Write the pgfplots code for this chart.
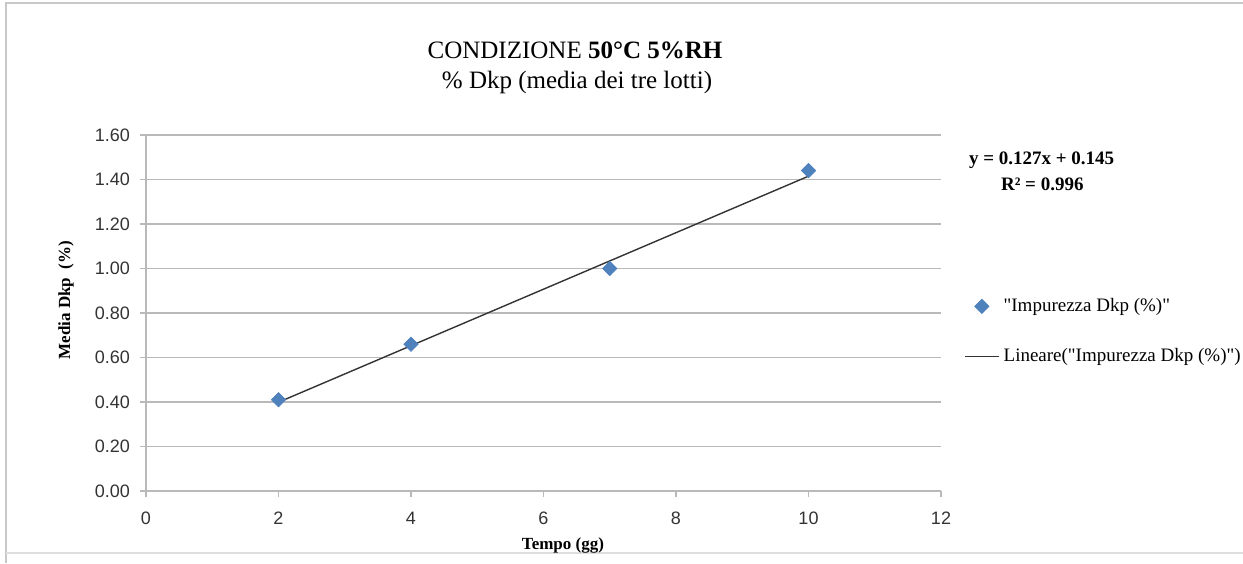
\documentclass[border=0pt]{standalone}
\usepackage{fontspec}
\setmainfont{Liberation Serif}
\newfontfamily\arial{Liberation Sans}
\usepackage{pgfplots}
\pgfplotsset{compat=1.18}
\definecolor{ptblue}{RGB}{79,129,189}
\definecolor{gridgray}{RGB}{185,185,185}
\definecolor{framegray}{RGB}{200,200,200}
\newcommand{\q}{\textquotedbl}

\begin{document}
\begin{tikzpicture}[x=0.5pt,y=-0.5pt]
  \useasboundingbox (0,0) rectangle (1243,563);
  % outer chart frame
  \draw[framegray,line width=0.8pt] (6,563) -- (6,3) -- (1243,3);
  \draw[framegray!60,line width=0.6pt] (6,553) -- (1243,553);

  \begin{axis}[
    at={(73pt,-245.5pt)}, anchor=south west,
    scale only axis, width=397.5pt, height=178pt,
    xmin=0, xmax=12, ymin=0, ymax=1.6,
    xtick={0,2,...,12}, ytick={0,0.2,...,1.6},
    axis lines*=left,
    axis line style={gridgray,line width=0.9pt,-},
    tick style={gridgray,line width=0.9pt},
    tick align=outside, major tick length=3pt,
    ymajorgrids, grid style={gridgray,line width=0.8pt},
    every tick label/.append style={font=\arial\fontsize{9}{10}\selectfont, text=black!80},
    /pgf/number format/assume math mode=true,
    x tick label style={yshift=-4pt},
    y tick label style={xshift=-1.5pt,/pgf/number format/.cd,fixed,fixed zerofill,precision=2},
    legend style={at={(1.021,0.565)}, anchor=north west, draw=none, fill=none,
      font=\fontsize{9.5}{11}\selectfont, row sep=13pt, cells={anchor=west},
      legend cell align=left},
  ]
    % mean Dkp values of the three lots
    \addplot[only marks, mark=square*, mark size=2.5pt, mark options={rotate=45}, color=ptblue]
      coordinates {(2,0.41) (4,0.66) (7,1.00) (10,1.44)};
    \addlegendentry{\q Impurezza Dkp (\%)\q}
    % linear trend y = 0.127x + 0.145
    \addplot[black!80, line width=0.7pt, no marks]
      coordinates {(2,0.399) (10,1.415)};
    \addlegendentry{Lineare(\q Impurezza Dkp (\%)\q)}
  \end{axis}

  % titles and labels
  \node[font=\fontsize{12.5}{15}\selectfont] at (575,50) {CONDIZIONE \textbf{50°C 5\%RH}};
  \node[font=\fontsize{12.5}{15}\selectfont] at (577,82) {\% Dkp (media dei tre lotti)};
  \node[font=\bfseries\fontsize{8.5}{10}\selectfont, rotate=90] at (66,300) {Media Dkp\ \ (\%)};
  \node[font=\bfseries\fontsize{8.5}{10}\selectfont] at (563,545) {Tempo (gg)};
  \node[font=\bfseries\fontsize{9.5}{11}\selectfont, anchor=west] at (962,160) {y = 0.127x + 0.145};
  \node[font=\bfseries\fontsize{9.5}{11}\selectfont, anchor=west] at (994,184) {R² = 0.996};
\end{tikzpicture}
\end{document}
